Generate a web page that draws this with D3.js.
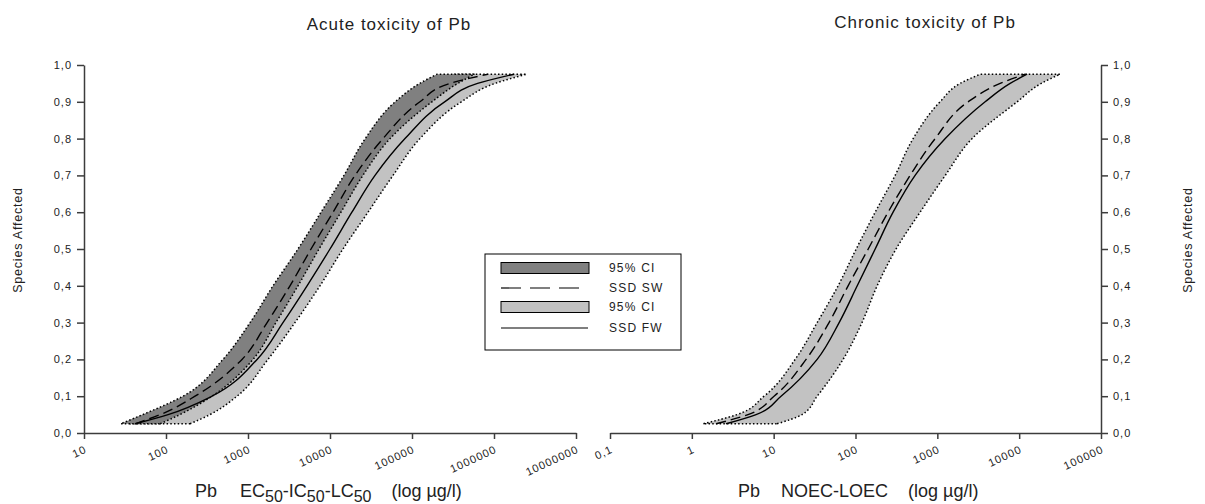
<!DOCTYPE html>
<html>
<head>
<meta charset="utf-8">
<script src="https://cdn.jsdelivr.net/npm/d3@7"></script>
<style>
  body { margin: 0; background: #fff; }
  svg text { font-family: "Liberation Sans", Arial, sans-serif; fill: #222; }
</style>
</head>
<body>
<svg width="1205" height="504"></svg>
<script>
var svg = d3.select("svg");

// fraction of species affected at which the curves were read
var levels = [0.025, 0.05, 0.1, 0.2, 0.3, 0.4, 0.5, 0.6, 0.7, 0.8, 0.9, 0.95, 0.975];

// acute toxicity, EC50-IC50-LC50 in µg/l (left panel)
var acuteSwLow  = [28, 52, 161, 495, 1060, 2020, 4070, 7770, 14800, 26900, 62400, 124000, 202000];
var acuteSwSSD  = [42, 85, 226, 845, 1710, 3250, 5870, 10900, 20200, 44300, 125000, 290000, 840000];
var acuteSwHigh = [85, 148, 364, 1150, 2190, 4070, 7350, 13600, 25200, 54000, 175000, 362000, 580000];
var acuteFwLow  = [36, 73, 213, 656, 1480, 2910, 5700, 10900, 20700, 36400, 82200, 175000, 334000];
var acuteFwSSD  = [42, 106, 364, 1290, 2670, 5250, 10000, 18500, 35400, 82200, 250000, 630000, 1750000];
var acuteFwHigh = [196, 344, 734, 1750, 3740, 7550, 14400, 29100, 58700, 125000, 400000, 1030000, 2500000];

// chronic toxicity, NOEC-LOEC in µg/l (right panel)
var chronicLow   = [1.37, 3.57, 7.63, 18.3, 34.0, 61.3, 102, 174, 305, 506, 1080, 1900, 3340];
var chronicSwSSD = [1.98, 4.86, 10.1, 24.9, 47.5, 81.2, 143, 250, 465, 940, 2380, 5860, 11800];
var chronicFwSSD = [2.62, 6.09, 12.3, 34.0, 63.1, 105, 174, 288, 535, 1250, 3840, 7760, 12500];
var chronicHigh  = [11.0, 22.2, 34.0, 70.5, 120, 184, 313, 616, 1250, 2660, 9460, 18600, 31700];

var acuteTicks = [10, 100, 1000, 10000, 100000, 1000000, 10000000];
var chronicTicks = [0.1, 1, 10, 100, 1000, 10000, 100000];
var fracTicks = [0, 0.1, 0.2, 0.3, 0.4, 0.5, 0.6, 0.7, 0.8, 0.9, 1];
var legendLabels = ["95% CI", "SSD SW", "95% CI", "SSD FW"];

var darkGrey = "#808080",
    lightGrey = "#c2c2c2";

var y = d3.scaleLinear().domain([0, 1]).range([433, 65]);

function fmtFrac(d) { return d.toFixed(1).replace(".", ","); }
function fmtConc(d) { return String(d).replace(".", ","); }

function styleAxis(a) {
  a.attr("font-size", 11);
  a.selectAll(".domain, .tick line").attr("stroke", "#3c3c3c").attr("stroke-width", 1.5);
  a.selectAll("text").attr("fill", "#222").style("letter-spacing", "1px");
}

function drawPanel(p) {
  var x = d3.scaleLog()
      .domain([p.ticks[0], p.ticks[p.ticks.length - 1]])
      .range(p.xRange);

  var g = svg.append("g");

  var band = d3.area()
      .curve(d3.curveMonotoneY)
      .y(function(d) { return y(d.p); })
      .x0(function(d) { return x(d.lo); })
      .x1(function(d) { return x(d.hi); });

  // CI bands, dotted outline
  p.bands.forEach(function(b) {
    g.append("path")
      .datum(levels.map(function(l, i) { return {p: l, lo: b.lo[i], hi: b.hi[i]}; }))
      .attr("d", band)
      .attr("fill", b.fill)
      .attr("stroke", "#000")
      .attr("stroke-width", 1.5)
      .attr("stroke-dasharray", "1.5,2.2");
  });

  var curve = d3.line()
      .curve(d3.curveMonotoneY)
      .x(function(d) { return x(d.v); })
      .y(function(d) { return y(d.p); });

  p.lines.forEach(function(s) {
    g.append("path")
      .datum(levels.map(function(l, i) { return {p: l, v: s.values[i]}; }))
      .attr("d", curve)
      .attr("fill", "none")
      .attr("stroke", "#000")
      .attr("stroke-width", 1.4)
      .attr("stroke-dasharray", s.dash);
  });

  // x axis with slanted labels
  var gx = g.append("g")
      .attr("transform", "translate(0," + y(0) + ")")
      .call(d3.axisBottom(x).tickValues(p.ticks).tickFormat(fmtConc).tickSize(6).tickSizeOuter(0));
  gx.selectAll(".tick text")
      .attr("y", 0)
      .attr("dy", 0)
      .attr("text-anchor", "end")
      .attr("transform", "translate(3,19) rotate(-25)");
  styleAxis(gx);

  var yAx = p.yRight ? d3.axisRight(y) : d3.axisLeft(y);
  var gy = g.append("g")
      .attr("transform", "translate(" + p.yAxisX + ",0)")
      .call(yAx.tickValues(fracTicks).tickFormat(fmtFrac).tickSize(7).tickPadding(5).tickSizeOuter(0));
  styleAxis(gy);

  // title
  svg.append("text")
      .attr("x", p.titleX)
      .attr("y", p.titleY)
      .attr("text-anchor", "middle")
      .attr("font-size", 17)
      .style("letter-spacing", "1px")
      .text(p.title);

  // y label
  svg.append("text")
      .attr("transform", "translate(" + p.yLabelX + ",240) rotate(-90)")
      .attr("text-anchor", "middle")
      .attr("font-size", 12.5)
      .style("letter-spacing", "0.8px")
      .text("Species Affected");

  // x label, built from pieces so the subscripts drop below the line
  var t = svg.append("text")
      .attr("x", p.xLabelX)
      .attr("y", 497)
      .attr("font-size", 18);
  var shift = 0;
  p.xLabel.forEach(function(part) {
    var dy = (part.sub ? 5 : 0) - shift;
    shift = part.sub ? 5 : 0;
    t.append("tspan")
      .attr("dx", part.gap || 0)
      .attr("dy", dy)
      .attr("font-size", part.sub ? 16 : 18)
      .text(part.t);
  });
}

drawPanel({
  ticks: acuteTicks,
  xRange: [84, 576],
  yAxisX: 84,
  yRight: false,
  bands: [
    {lo: acuteFwLow, hi: acuteFwHigh, fill: lightGrey},
    {lo: acuteSwLow, hi: acuteSwHigh, fill: darkGrey}
  ],
  lines: [
    {values: acuteSwSSD, dash: "10,5"},
    {values: acuteFwSSD, dash: null}
  ],
  title: "Acute toxicity of Pb",
  titleX: 389, titleY: 30,
  yLabelX: 22,
  xLabelX: 195,
  xLabel: [
    {t: "Pb"},
    {t: "EC", gap: 23},
    {t: "50", sub: true},
    {t: "-IC"},
    {t: "50", sub: true},
    {t: "-LC"},
    {t: "50", sub: true},
    {t: "(log µg/l)", gap: 20}
  ]
});

drawPanel({
  ticks: chronicTicks,
  xRange: [610, 1101],
  yAxisX: 1101,
  yRight: true,
  bands: [
    {lo: chronicLow, hi: chronicHigh, fill: lightGrey}
  ],
  lines: [
    {values: chronicSwSSD, dash: "10,5"},
    {values: chronicFwSSD, dash: null}
  ],
  title: "Chronic toxicity of Pb",
  titleX: 925, titleY: 28,
  yLabelX: 1192,
  xLabelX: 738,
  xLabel: [
    {t: "Pb"},
    {t: "NOEC-LOEC", gap: 21},
    {t: "(log µg/l)", gap: 20}
  ]
});

// legend
var lg = svg.append("g");
lg.append("rect")
    .attr("x", 485).attr("y", 254).attr("width", 196).attr("height", 96)
    .attr("fill", "#fff").attr("stroke", "#000").attr("stroke-width", 1);

var keys = [
  {kind: "box", fill: darkGrey},
  {kind: "line", dash: "20,9"},
  {kind: "box", fill: lightGrey},
  {kind: "line", dash: null}
];
var rowY = [268, 288, 307, 328];

keys.forEach(function(k, i) {
  if (k.kind === "box") {
    lg.append("rect")
      .attr("x", 501).attr("y", rowY[i] - 5.5).attr("width", 88).attr("height", 11)
      .attr("fill", k.fill).attr("stroke", "#000").attr("stroke-width", 1);
  } else {
    lg.append("line")
      .attr("x1", 501).attr("x2", 588).attr("y1", rowY[i]).attr("y2", rowY[i])
      .attr("stroke", "#000").attr("stroke-width", 1.2)
      .attr("stroke-dasharray", k.dash);
  }
  lg.append("text")
    .attr("x", 609)
    .attr("y", rowY[i] + 4)
    .attr("font-size", 12)
    .style("letter-spacing", "1.2px")
    .text(legendLabels[i]);
});
</script>
</body>
</html>
